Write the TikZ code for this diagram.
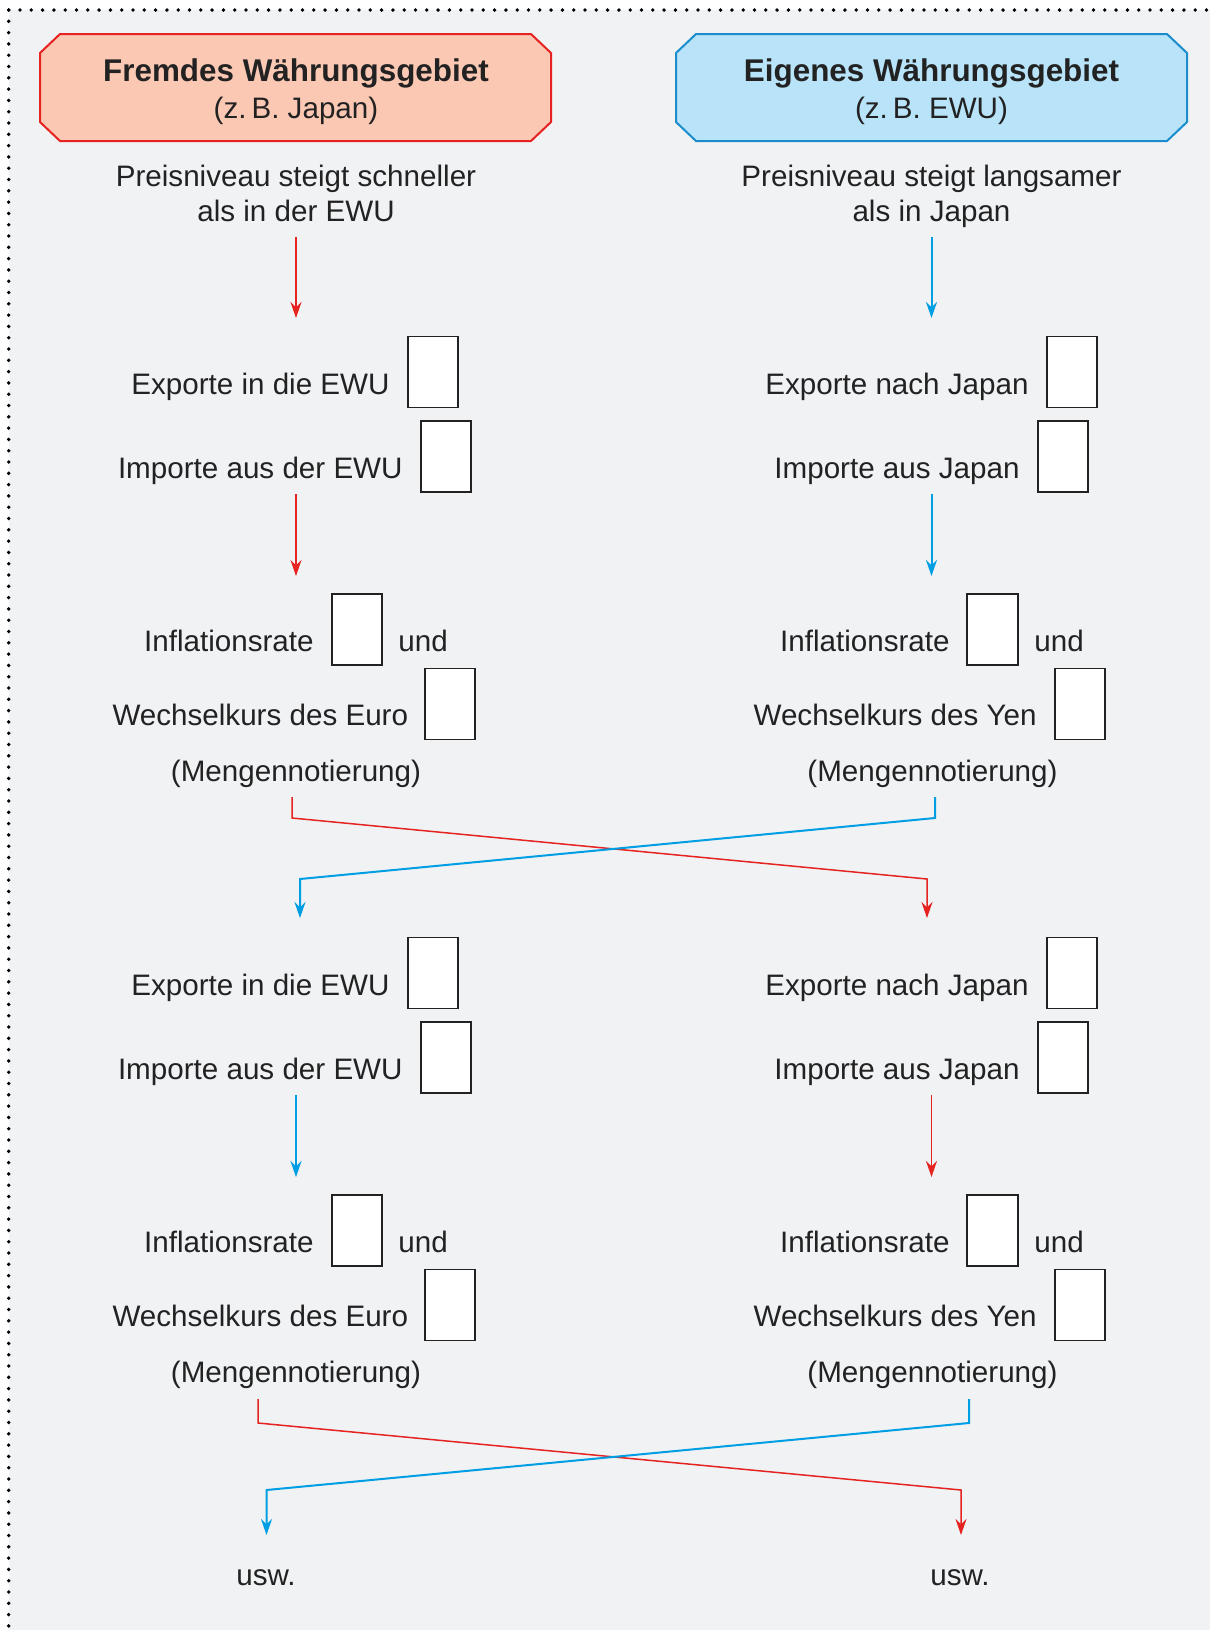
\documentclass[tikz,border=0pt]{standalone}
\usepackage{fontspec}
\setmainfont{Liberation Sans}
\usetikzlibrary{arrows.meta}
\definecolor{bgc}{HTML}{F1F2F4}
\definecolor{myred}{HTML}{E52421}
\definecolor{myblue}{HTML}{009FE3}
\definecolor{bluedark}{HTML}{1B8DCC}
\definecolor{redfill}{HTML}{FBC8B3}
\definecolor{bluefill}{HTML}{B8E3F8}
\definecolor{txt}{HTML}{222222}
\begin{document}
\begin{tikzpicture}[x=0.5pt,y=-0.5pt,
  font=\fontsize{14.8}{17.5}\selectfont,
  lbl/.style={inner sep=0pt, text=txt},
  lblE/.style={lbl, anchor=base east},
  lblC/.style={lbl, anchor=base},
  lblW/.style={lbl, anchor=base west},
  head/.style={lbl, anchor=base, font=\fontsize{15.7}{18}\selectfont\bfseries},
  ansbox/.style={draw=txt, fill=white, line width=0.9pt, minimum width=25.3pt, minimum height=35.5pt, inner sep=0pt},
  tip/.style={-{Stealth[length=8pt,width=5.5pt,inset=2.6pt]}},
  redarr/.style={tip, draw=myred, line width=0.75pt},
  bluearr/.style={tip, draw=myblue, line width=1pt},
  dots/.style={draw=black, line width=1.9pt, line cap=round, dash pattern=on 0pt off 5.65pt}
]
\useasboundingbox (0,0) rectangle (1210,1630);
\fill[bgc] (8.7,10) rectangle (1210,1630);
\draw[dots] (8.7,10) -- (1210,10);
\draw[dots] (8.7,10) -- (8.7,1630);

% headers
\draw[draw=myred, fill=redfill, line width=1pt]
  (60,34) -- (531,34) -- (551,53) -- (551,122) -- (531,141) -- (60,141) -- (40,122) -- (40,53) -- cycle;
\draw[draw=bluedark, fill=bluefill, line width=1pt]
  (696,34) -- (1167,34) -- (1187,53) -- (1187,122) -- (1167,141) -- (696,141) -- (676,122) -- (676,53) -- cycle;
\node[head] (hL1) at (296,81.5) {Fremdes Währungsgebiet};
\node[lblC] (hL2) at (296,118) {(z.\,B. Japan)};
\node[head] (hR1) at (931.5,81.5) {Eigenes Währungsgebiet};
\node[lblC] (hR2) at (931.5,118) {(z.\,B. EWU)};

% start texts
\node[lblC] (pL1) at (296,186.7) {Preisniveau steigt schneller};
\node[lblC] (pL2) at (296,221.7) {als in der EWU};
\node[lblC] (pR1) at (931.5,186.7) {Preisniveau steigt langsamer};
\node[lblC] (pR2) at (931.5,221.7) {als in Japan};

\coordinate (a1Ls) at (296,237);  \coordinate (a1Le) at (296,318);
\coordinate (a1Rs) at (931.5,237); \coordinate (a1Re) at (931.5,318);
\draw[redarr] (a1Ls) -- (a1Le);
\draw[bluearr] (a1Rs) -- (a1Re);

% block 1
\node[lblE] (expL1) at (390,394) {Exporte in die EWU};
\node[ansbox] (bExpL1) at (433,372) {};
\node[lblE] (impL1) at (403,478) {Importe aus der EWU};
\node[ansbox] (bImpL1) at (446,456.5) {};
\node[lblE] (expR1) at (1029,394) {Exporte nach Japan};
\node[ansbox] (bExpR1) at (1072,372) {};
\node[lblE] (impR1) at (1020,478) {Importe aus Japan};
\node[ansbox] (bImpR1) at (1063,456.5) {};

\coordinate (a2Ls) at (296,494);  \coordinate (a2Le) at (296,576);
\coordinate (a2Rs) at (931.5,494); \coordinate (a2Re) at (931.5,576);
\draw[redarr] (a2Ls) -- (a2Le);
\draw[bluearr] (a2Rs) -- (a2Re);

% block 2
\node[lblE] (infL1) at (314,651) {Inflationsrate};
\node[ansbox] (bInfL1) at (357,629.5) {};
\node[lblW] (undL1) at (398,651) {und};
\node[lblE] (wkL1) at (408.5,725.7) {Wechselkurs des Euro};
\node[ansbox] (bWkL1) at (450,704) {};
\node[lblC] (mnL1) at (296,781.5) {(Mengennotierung)};
\node[lblE] (infR1) at (950,651) {Inflationsrate};
\node[ansbox] (bInfR1) at (992.5,629.5) {};
\node[lblW] (undR1) at (1034,651) {und};
\node[lblE] (wkR1) at (1037,725.7) {Wechselkurs des Yen};
\node[ansbox] (bWkR1) at (1080,704) {};
\node[lblC] (mnR1) at (932.5,781.5) {(Mengennotierung)};

% crossing 1
\coordinate (c1Ls) at (292,797);  \coordinate (c1Re) at (927,918);
\coordinate (c1Rs) at (935,797);  \coordinate (c1Le) at (300,918);
\draw[redarr] (c1Ls) -- ++(0,21) -- (927,879) -- (c1Re);
\draw[bluearr] (c1Rs) -- ++(0,21) -- (300,879) -- (c1Le);

% block 3
\node[lblE] (expL2) at (390,995) {Exporte in die EWU};
\node[ansbox] (bExpL2) at (433,973) {};
\node[lblE] (impL2) at (403,1079) {Importe aus der EWU};
\node[ansbox] (bImpL2) at (446,1057.5) {};
\node[lblE] (expR2) at (1029,995) {Exporte nach Japan};
\node[ansbox] (bExpR2) at (1072,973) {};
\node[lblE] (impR2) at (1020,1079) {Importe aus Japan};
\node[ansbox] (bImpR2) at (1063,1057.5) {};

\coordinate (a3Ls) at (296,1095);  \coordinate (a3Le) at (296,1177);
\coordinate (a3Rs) at (931.5,1095); \coordinate (a3Re) at (931.5,1177);
\draw[bluearr] (a3Ls) -- (a3Le);
\draw[redarr] (a3Rs) -- (a3Re);

% block 4
\node[lblE] (infL2) at (314,1252) {Inflationsrate};
\node[ansbox] (bInfL2) at (357,1230.5) {};
\node[lblW] (undL2) at (398,1252) {und};
\node[lblE] (wkL2) at (408.5,1326.7) {Wechselkurs des Euro};
\node[ansbox] (bWkL2) at (450,1305) {};
\node[lblC] (mnL2) at (296,1382.5) {(Mengennotierung)};
\node[lblE] (infR2) at (950,1252) {Inflationsrate};
\node[ansbox] (bInfR2) at (992.5,1230.5) {};
\node[lblW] (undR2) at (1034,1252) {und};
\node[lblE] (wkR2) at (1037,1326.7) {Wechselkurs des Yen};
\node[ansbox] (bWkR2) at (1080,1305) {};
\node[lblC] (mnR2) at (932.5,1382.5) {(Mengennotierung)};

% crossing 2
\node[lblC] (uswL) at (266,1585) {usw.};
\node[lblC] (uswR) at (960,1585) {usw.};
\coordinate (c2Ls) at (258,1399);  \coordinate (c2Re) at (961,1535);
\coordinate (c2Rs) at (969,1399);  \coordinate (c2Le) at (266.5,1535);
\draw[redarr] (c2Ls) -- ++(0,24) -- (961,1490) -- (c2Re);
\draw[bluearr] (c2Rs) -- ++(0,24) -- (266.5,1490) -- (c2Le);
\end{tikzpicture}
\end{document}
